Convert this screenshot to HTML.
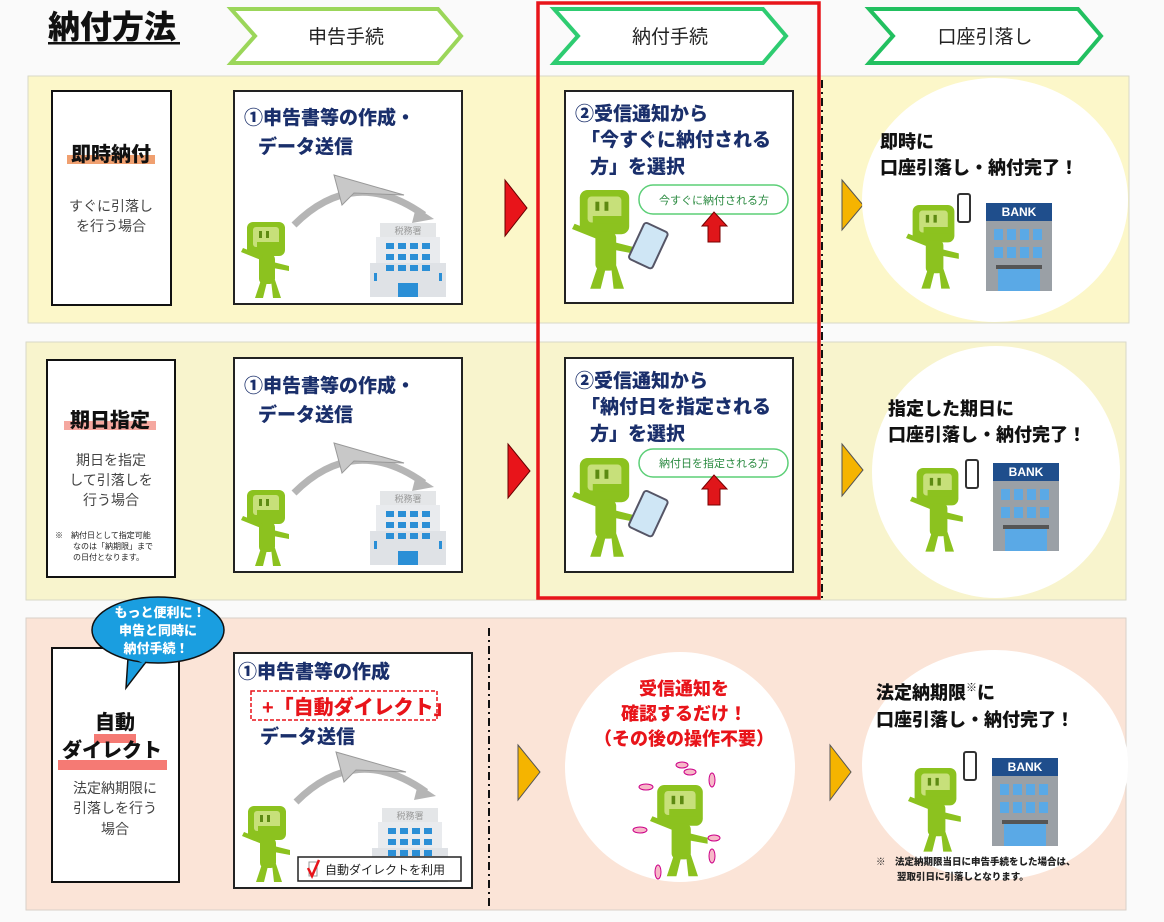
<!DOCTYPE html>
<html><head><meta charset="utf-8"><style>
html,body{margin:0;padding:0;background:#fafafa;}
svg{display:block;font-family:"Liberation Sans","Noto Sans CJK JP",sans-serif;}
.b{font-weight:900;}
</style></head><body>
<svg width="1164" height="922" viewBox="0 0 1164 922" xmlns="http://www.w3.org/2000/svg">
<defs>
<g id="masc">
 <rect x="6" y="0" width="38" height="34" rx="6" fill="#8cc21f"/>
 <rect x="12" y="5" width="26" height="20" rx="3" fill="#c7e07a"/>
 <rect x="18" y="9" width="3" height="7" fill="#5d8a12"/><rect x="25" y="9" width="3" height="7" fill="#5d8a12"/>
 <path d="M16 20 H40 V26 H16 Z" fill="#8cc21f"/>
 <rect x="18" y="32" width="16" height="30" rx="5" fill="#8cc21f"/>
 <path d="M20 58 L14 76 L22 76 L26 60 Z M30 58 L32 76 L40 76 L34 58 Z" fill="#8cc21f"/>
 <path d="M20 38 L0 30 L2 26 L22 34 Z" fill="#8cc21f"/>
 <path d="M32 40 L48 44 L48 49 L32 46 Z" fill="#8cc21f"/>
</g>
<g id="bld">
 <rect x="10" y="0" width="56" height="14" fill="#e4e6e8"/>
 <rect x="6" y="14" width="64" height="60" fill="#e9ebee"/>
 <rect x="0" y="40" width="76" height="34" fill="#dfe2e6"/>
 <g fill="#2b8fd6"><rect x="16" y="20" width="8" height="6"/><rect x="28" y="20" width="8" height="6"/><rect x="40" y="20" width="8" height="6"/><rect x="52" y="20" width="8" height="6"/>
 <rect x="16" y="31" width="8" height="6"/><rect x="28" y="31" width="8" height="6"/><rect x="40" y="31" width="8" height="6"/><rect x="52" y="31" width="8" height="6"/>
 <rect x="16" y="42" width="8" height="6"/><rect x="28" y="42" width="8" height="6"/><rect x="40" y="42" width="8" height="6"/><rect x="52" y="42" width="8" height="6"/>
 <rect x="28" y="60" width="20" height="14"/><rect x="4" y="50" width="3" height="8"/><rect x="69" y="50" width="3" height="8"/></g>
</g>
<g id="bank">
 <rect x="0" y="0" width="66" height="88" fill="#9aa0a6"/>
 <rect x="0" y="0" width="66" height="18" fill="#1f4e8c"/>
 <g fill="#5aa9e6"><rect x="8" y="26" width="9" height="11"/><rect x="21" y="26" width="9" height="11"/><rect x="34" y="26" width="9" height="11"/><rect x="47" y="26" width="9" height="11"/>
 <rect x="8" y="44" width="9" height="11"/><rect x="21" y="44" width="9" height="11"/><rect x="34" y="44" width="9" height="11"/><rect x="47" y="44" width="9" height="11"/>
 <rect x="12" y="66" width="42" height="22"/></g>
 <rect x="10" y="62" width="46" height="4" fill="#555"/>
</g>
<g id="plane">
 <path d="M0 50 Q60 -10 130 40" fill="none" stroke="#b5b5b5" stroke-width="7"/>
 <path d="M122 32 L140 44 L118 48 Z" fill="#b5b5b5"/>
 <path d="M40 0 L110 20 L60 18 L48 30 Z" fill="#c8c8c8" stroke="#999"/>
</g>
<g id="tablet"><rect x="0" y="0" width="26" height="40" rx="3" fill="#cfe6f5" stroke="#556" stroke-width="2" transform="rotate(25)"/></g>
</defs>

<text x="48" y="38" class="b" font-size="32" fill="#111">納付方法</text>
<rect x="48" y="42" width="132" height="2.5" fill="#111"/>

<path d="M231 9 H438 L461 36 L438 63 H231 L255 36 Z" fill="#fff" stroke="#9bd65a" stroke-width="4"/>
<text x="346" y="43" text-anchor="middle" font-size="19" fill="#222">申告手続</text>
<path d="M554 9 H763 L786 36 L763 63 H554 L578 36 Z" fill="#fff" stroke="#2ecc71" stroke-width="4"/>
<text x="670" y="43" text-anchor="middle" font-size="19" fill="#222">納付手続</text>
<path d="M869 9 H1078 L1101 36 L1078 63 H869 L893 36 Z" fill="#fff" stroke="#22c060" stroke-width="4"/>
<text x="985" y="43" text-anchor="middle" font-size="19" fill="#222">口座引落し</text>

<rect x="28" y="76" width="1101" height="247" fill="#fcf7c9" stroke="#d8d8c8"/>
<rect x="26" y="342" width="1100" height="258" fill="#f8f4cd" stroke="#d8d8c8"/>
<rect x="26" y="618" width="1100" height="292" fill="#fbe4d7" stroke="#d8d0c8"/>

<!-- ROW 1 -->
<rect x="52" y="91" width="119" height="214" fill="#fff" stroke="#111" stroke-width="2"/>
<rect x="67" y="155" width="88" height="9" fill="#f0a070"/>
<text x="111" y="161" text-anchor="middle" class="b" font-size="20" fill="#111">即時納付</text>
<text x="111" y="211" text-anchor="middle" font-size="14" fill="#444">すぐに引落し</text>
<text x="111" y="231" text-anchor="middle" font-size="14" fill="#444">を行う場合</text>

<rect x="234" y="91" width="228" height="213" fill="#fff" stroke="#222" stroke-width="2"/>
<text x="244" y="124" class="b" font-size="19" fill="#1a2f6b">①申告書等の作成・</text>
<text x="258" y="153" class="b" font-size="19" fill="#1a2f6b">データ送信</text>
<use href="#plane" x="294" y="175"/>
<use href="#masc" x="241" y="222"/>
<use href="#bld" x="370" y="223"/>
<text x="408" y="234" text-anchor="middle" font-size="9" fill="#999">税務署</text>

<path d="M505 180 L527 208 L505 236 Z" fill="#e8141a" stroke="#600"/>

<rect x="565" y="91" width="228" height="212" fill="#fff" stroke="#222" stroke-width="2"/>
<text x="575" y="120" class="b" font-size="19" fill="#1a2f6b">②受信通知から</text>
<text x="581" y="146" class="b" font-size="19" fill="#1a2f6b">「今すぐに納付される</text>
<text x="590" y="173" class="b" font-size="19" fill="#1a2f6b">方」を選択</text>
<rect x="639" y="185" width="149" height="29" rx="14" fill="#fff" stroke="#5ccf77" stroke-width="1.5"/>
<text x="714" y="204" text-anchor="middle" font-size="11" fill="#2a8a40">今すぐに納付される方</text>
<path d="M702 226 L714 212 L727 226 H720 V242 H708 V226 Z" fill="#e0161a" stroke="#700"/>
<g transform="translate(572 190) scale(1.3)"><use href="#masc"/></g>
<g transform="translate(645 222)"><use href="#tablet"/></g>

<path d="M822 80 V598" stroke="#111" stroke-width="2" stroke-dasharray="8 4 2 4"/>
<path d="M842 180 L863 205 L842 230 Z" fill="#f5b400" stroke="#555"/>
<ellipse cx="995" cy="200" rx="133" ry="122" fill="#fff"/>
<text x="880" y="148" class="b" font-size="18" fill="#111">即時に</text>
<text x="880" y="174" class="b" font-size="18" fill="#111">口座引落し・納付完了！</text>
<g transform="translate(906 205) scale(1.1)"><use href="#masc"/></g>
<rect x="958" y="194" width="12" height="28" rx="2" fill="#fff" stroke="#333" stroke-width="2"/>
<use href="#bank" x="986" y="203"/>
<text x="1019" y="216" text-anchor="middle" class="b" font-size="12" fill="#fff">BANK</text>

<!-- ROW 2 -->
<rect x="47" y="360" width="128" height="217" fill="#fff" stroke="#111" stroke-width="2"/>
<rect x="64" y="421" width="92" height="9" fill="#f5a8a0"/>
<text x="110" y="427" text-anchor="middle" class="b" font-size="20" fill="#111">期日指定</text>
<text x="111" y="465" text-anchor="middle" font-size="14" fill="#444">期日を指定</text>
<text x="111" y="485" text-anchor="middle" font-size="14" fill="#444">して引落しを</text>
<text x="111" y="505" text-anchor="middle" font-size="14" fill="#444">行う場合</text>
<text x="55" y="538" font-size="8" fill="#222">※　納付日として指定可能</text>
<text x="73" y="549" font-size="8" fill="#222">なのは「納期限」まで</text>
<text x="73" y="560" font-size="8" fill="#222">の日付となります。</text>

<rect x="234" y="358" width="228" height="214" fill="#fff" stroke="#222" stroke-width="2"/>
<text x="244" y="392" class="b" font-size="19" fill="#1a2f6b">①申告書等の作成・</text>
<text x="258" y="421" class="b" font-size="19" fill="#1a2f6b">データ送信</text>
<use href="#plane" x="294" y="443"/>
<use href="#masc" x="241" y="490"/>
<use href="#bld" x="370" y="491"/>
<text x="408" y="502" text-anchor="middle" font-size="9" fill="#999">税務署</text>

<path d="M508 444 L530 471 L508 498 Z" fill="#e8141a" stroke="#600"/>

<rect x="565" y="358" width="228" height="214" fill="#fff" stroke="#222" stroke-width="2"/>
<text x="575" y="387" class="b" font-size="19" fill="#1a2f6b">②受信通知から</text>
<text x="581" y="413" class="b" font-size="19" fill="#1a2f6b">「納付日を指定される</text>
<text x="590" y="440" class="b" font-size="19" fill="#1a2f6b">方」を選択</text>
<rect x="639" y="449" width="149" height="28" rx="14" fill="#fff" stroke="#5ccf77" stroke-width="1.5"/>
<text x="714" y="467" text-anchor="middle" font-size="11" fill="#2a8a40">納付日を指定される方</text>
<path d="M702 489 L714 475 L727 489 H720 V505 H708 V489 Z" fill="#e0161a" stroke="#700"/>
<g transform="translate(572 458) scale(1.3)"><use href="#masc"/></g>
<g transform="translate(645 490)"><use href="#tablet"/></g>

<path d="M842 444 L863 470 L842 496 Z" fill="#f5b400" stroke="#555"/>
<ellipse cx="996" cy="472" rx="124" ry="126" fill="#fff"/>
<text x="888" y="415" class="b" font-size="18" fill="#111">指定した期日に</text>
<text x="888" y="441" class="b" font-size="18" fill="#111">口座引落し・納付完了！</text>
<g transform="translate(910 468) scale(1.1)"><use href="#masc"/></g>
<rect x="966" y="460" width="12" height="28" rx="2" fill="#fff" stroke="#333" stroke-width="2"/>
<use href="#bank" x="993" y="463"/>
<text x="1026" y="476" text-anchor="middle" class="b" font-size="12" fill="#fff">BANK</text>

<rect x="538" y="3" width="281" height="595" fill="none" stroke="#e8141a" stroke-width="3.5"/>

<!-- ROW 3 -->
<rect x="52" y="648" width="127" height="234" fill="#fff" stroke="#111" stroke-width="2"/>
<rect x="94" y="734" width="42" height="9" fill="#f57a74"/>
<rect x="58" y="760" width="109" height="10" fill="#f57a74"/>
<text x="115" y="729" text-anchor="middle" class="b" font-size="20" fill="#111">自動</text>
<text x="112" y="757" text-anchor="middle" class="b" font-size="20" fill="#111">ダイレクト</text>
<text x="115" y="793" text-anchor="middle" font-size="14" fill="#444">法定納期限に</text>
<text x="115" y="813" text-anchor="middle" font-size="14" fill="#444">引落しを行う</text>
<text x="115" y="834" text-anchor="middle" font-size="14" fill="#444">場合</text>

<path d="M128 658 L126 688 L146 662 Z" fill="#1a9ee0" stroke="#111" stroke-width="1.5"/>
<ellipse cx="158" cy="630" rx="66" ry="33" fill="#1a9ee0" stroke="#111" stroke-width="1.5"/>
<path d="M131 655 L145 662" stroke="#1a9ee0" stroke-width="4"/>
<text x="160" y="617" text-anchor="middle" class="b" font-size="13" fill="#fff">もっと便利に！</text>
<text x="158" y="635" text-anchor="middle" class="b" font-size="13" fill="#fff">申告と同時に</text>
<text x="156" y="653" text-anchor="middle" class="b" font-size="13" fill="#fff">納付手続！</text>

<rect x="234" y="653" width="238" height="235" fill="#fff" stroke="#222" stroke-width="2"/>
<text x="238" y="678" class="b" font-size="19" fill="#1a2f6b">①申告書等の作成</text>
<rect x="251" y="691" width="186" height="29" fill="none" stroke="#e8141a" stroke-width="1.5" stroke-dasharray="4 2"/>
<text x="262" y="714" class="b" font-size="20" fill="#e8141a">+「自動ダイレクト」</text>
<text x="260" y="743" class="b" font-size="19" fill="#1a2f6b">データ送信</text>
<use href="#plane" x="296" y="752"/>
<use href="#masc" x="242" y="806"/>
<use href="#bld" x="372" y="808"/>
<text x="410" y="819" text-anchor="middle" font-size="9" fill="#999">税務署</text>
<rect x="298" y="857" width="163" height="24" fill="#fff" stroke="#222" stroke-width="1.5"/>
<rect x="309" y="862" width="8" height="14" fill="#fff" stroke="#999"/>
<path d="M308 868 L312 876 L319 860" fill="none" stroke="#e8141a" stroke-width="2.5"/>
<text x="325" y="874" font-size="12" fill="#222">自動ダイレクトを利用</text>

<path d="M489 628 V910" stroke="#111" stroke-width="2" stroke-dasharray="8 4 2 4"/>
<path d="M518 745 L540 772 L518 800 Z" fill="#f5b400" stroke="#555"/>
<circle cx="680" cy="767" r="115" fill="#fff"/>
<text x="684" y="695" text-anchor="middle" class="b" font-size="18" fill="#e8141a">受信通知を</text>
<text x="684" y="720" text-anchor="middle" class="b" font-size="18" fill="#e8141a">確認するだけ！</text>
<text x="684" y="745" text-anchor="middle" class="b" font-size="18" fill="#e8141a">（その後の操作不要）</text>
<g fill="#f7b8c8" stroke="#c08"><ellipse cx="646" cy="787" rx="7" ry="3"/><ellipse cx="690" cy="772" rx="6" ry="3"/><ellipse cx="712" cy="780" rx="3" ry="7"/><ellipse cx="640" cy="830" rx="7" ry="3"/><ellipse cx="714" cy="838" rx="6" ry="3"/><ellipse cx="712" cy="856" rx="3" ry="7"/><ellipse cx="658" cy="872" rx="3" ry="7"/><ellipse cx="682" cy="765" rx="6" ry="3"/></g>
<g transform="translate(650 785) scale(1.2)"><use href="#masc"/></g>

<path d="M830 745 L851 772 L830 800 Z" fill="#f5b400" stroke="#555"/>
<ellipse cx="995" cy="765" rx="133" ry="115" fill="#fff"/>
<text x="876" y="699" class="b" font-size="18" fill="#111">法定納期限<tspan font-size="11" dy="-8">※</tspan><tspan dy="8">に</tspan></text>
<text x="876" y="726" class="b" font-size="18" fill="#111">口座引落し・納付完了！</text>
<g transform="translate(908 768) scale(1.1)"><use href="#masc"/></g>
<rect x="964" y="752" width="12" height="28" rx="2" fill="#fff" stroke="#333" stroke-width="2"/>
<use href="#bank" x="992" y="758"/>
<text x="1025" y="771" text-anchor="middle" class="b" font-size="12" fill="#fff">BANK</text>
<text x="876" y="865" class="b" font-size="9.5" fill="#222">※　法定納期限当日に申告手続をした場合は、</text>
<text x="897" y="880" class="b" font-size="9.5" fill="#222">翌取引日に引落しとなります。</text>
</svg>
</body></html>
